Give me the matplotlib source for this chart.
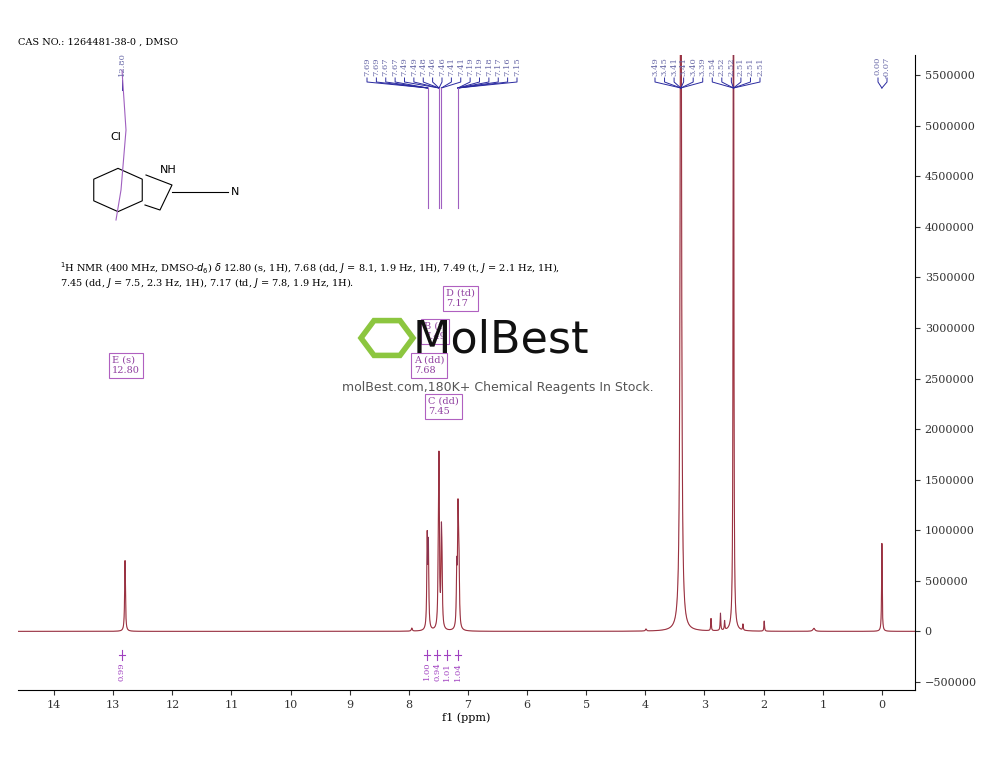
import numpy as np
import matplotlib.pyplot as plt
from matplotlib.patches import RegularPolygon

# Peaks (ppm, height)
peak_ppm = [12.80, 7.69, 7.67, 7.50, 7.49, 7.45, 7.44, 7.19, 7.17, 7.16, 7.15,
            7.95, 3.99, 3.40, 2.89, 2.73, 2.66, 2.51, 2.35, 1.99, 1.15, 0.00]
peak_h = [700000, 880000, 800000, 700000, 1450000, 800000, 500000, 550000, 950000, 550000, 400000,
          30000, 20000, 9000000, 120000, 170000, 90000, 9000000, 60000, 100000, 30000, 870000]
peak_w = [0.008] + [0.008]*10 + [0.01, 0.01, 0.012, 0.006, 0.006, 0.006, 0.006, 0.006, 0.006, 0.02, 0.006]

labels_a = ['7.69', '7.69', '7.67', '7.67', '7.49', '7.49', '7.48', '7.46', '7.46',
            '7.41', '7.41', '7.19', '7.19', '7.18', '7.17', '7.16', '7.15']
labels_b = ['3.49', '3.45', '3.41', '3.41', '3.40', '3.39', '2.54', '2.52', '2.52', '2.51', '2.51', '2.51']
labels_c = ['0.00', '-0.07']

integ_val = ['0.99', '1.00', '0.94', '1.01', '1.04']
integ_px = [122, 427, 437, 447, 458]

boxes = [('E (s)\n12.80', 108, 352), ('D (td)\n7.17', 442, 285), ('B (t)\n7.49', 420, 318),
         ('A (dd)\n7.68', 410, 352), ('C (dd)\n7.45', 424, 393)]

W, H = 1000, 773
fig = plt.figure(figsize=(10, 7.73), dpi=100)
ax = fig.add_axes([18/W, 1-690/H, (915-18)/W, (690-55)/H])

x = np.linspace(14.61, -0.56, 30000)
y = np.zeros_like(x)
for p, h, w in zip(peak_ppm, peak_h, peak_w):
    y += h / (1 + ((x - p) / w) ** 2)
ax.plot(x, y, color='#b03030', lw=0.8)
ax.plot(x, y, color='#3040a0', lw=0.3, alpha=0.4)
ax.set_xlim(14.61, -0.56)
ax.set_ylim(-580000, 5700000)
ax.yaxis.tick_right()
ax.spines['top'].set_visible(False)
ax.spines['left'].set_visible(False)
ax.set_xticks(range(0, 15))
ax.set_yticks(range(-500000, 5500001, 500000))
ax.set_yticklabels(['\u2212500000' if v < 0 else str(v) for v in range(-500000, 5500001, 500000)])
ax.tick_params(labelsize=8, colors='#333333')
for t in ax.get_xticklabels() + ax.get_yticklabels():
    t.set_family('serif')
ax.set_xlabel('f1 (ppm)', fontsize=8, family='serif', labelpad=2)

def ppm2px(p):
    return 18 + (14.61 - p) / (14.61 + 0.56) * 897

def fx(px):
    return px / W

def fy(py):
    return 1 - py / H

def label_group(labels, x0, x1, targets):
    xs = np.linspace(x0, x1, len(labels))
    for lab, xp, tp in zip(labels, xs, targets):
        fig.text(fx(xp), fy(57), lab, rotation=90, fontsize=6, color='#6a6aa8',
                 family='serif', ha='center', va='top')
        tx = ppm2px(tp)
        fig.add_artist(plt.Line2D([fx(xp), fx(xp), fx(tx)], [fy(78), fy(82), fy(88)],
                                  color='#2a2aa0', lw=0.7))

label_group(labels_a, 367, 517, [7.68]*4 + [7.49]*5 + [7.45]*2 + [7.17]*6)
label_group(labels_b, 655, 760, [3.40]*6 + [2.51]*6)
label_group(labels_c, 878, 887, [0.0, 0.0])
fig.text(fx(122), fy(52), '12.80', rotation=90, fontsize=6, color='#6a6aa8', family='serif', ha='center', va='top')
fig.add_artist(plt.Line2D([fx(122), fx(122)], [fy(80), fy(90)], color='#2a2aa0', lw=0.7))
for p in [7.68, 7.49, 7.45, 7.17]:
    fig.add_artist(plt.Line2D([fx(ppm2px(p))]*2, [fy(88), fy(208)], color='#a060c0', lw=0.8))
fig.add_artist(plt.Line2D([fx(122), fx(126), fx(121), fx(116)], [fy(70), fy(130), fy(190), fy(220)],
                          color='#a060c0', lw=0.8))

for v, xp in zip(integ_val, integ_px):
    fig.text(fx(xp), fy(662), v, rotation=90, fontsize=6, color='#a040c0', family='serif', ha='center', va='top')
    fig.add_artist(plt.Line2D([fx(xp-3), fx(xp+3)], [fy(655), fy(655)], color='#a040c0', lw=0.8))
    fig.add_artist(plt.Line2D([fx(xp)]*2, [fy(650), fy(660)], color='#a040c0', lw=0.8))

for txt, bx, by in boxes:
    fig.text(fx(bx+4), fy(by+4), txt, fontsize=7, color='#9040a0', family='serif', va='top',
             linespacing=1.2, bbox=dict(boxstyle='square,pad=0.3', fc='white', ec='#b060c0', lw=0.8))

fig.text(fx(18), fy(42), 'CAS NO.: 1264481-38-0 , DMSO', fontsize=7, family='serif', va='center')
fig.text(fx(60), fy(268), r'$^1$H NMR (400 MHz, DMSO-$d_6$) $\delta$ 12.80 (s, 1H), 7.68 (dd, $J$ = 8.1, 1.9 Hz, 1H), 7.49 (t, $J$ = 2.1 Hz, 1H),',
         fontsize=7, family='serif', va='center')
fig.text(fx(60), fy(283), r'7.45 (dd, $J$ = 7.5, 2.3 Hz, 1H), 7.17 (td, $J$ = 7.8, 1.9 Hz, 1H).',
         fontsize=7, family='serif', va='center')

# rough structure
fig.add_artist(RegularPolygon((fx(118), fy(190)), 6, radius=0.028, orientation=0, fill=False, lw=0.8,
                              transform=fig.transFigure))
fig.text(fx(116), fy(137), 'Cl', fontsize=8, ha='center', va='center')
fig.text(fx(168), fy(170), 'NH', fontsize=8, ha='center', va='center')
fig.text(fx(235), fy(192), 'N', fontsize=8, ha='center', va='center')
fig.add_artist(plt.Line2D([fx(146), fx(172), fx(160), fx(145)], [fy(175), fy(185), fy(210), fy(205)],
                          color='k', lw=0.8))
fig.add_artist(plt.Line2D([fx(172), fx(228)], [fy(192), fy(192)], color='k', lw=0.8))

# watermark
fig.add_artist(RegularPolygon((fx(387), fy(338)), 6, radius=0.026, orientation=np.pi/6, fill=False,
                              ec='#8cc63f', lw=4, transform=fig.transFigure, zorder=10))
fig.text(fx(413), fy(340), 'MolBest', fontsize=32, ha='left', va='center', color='#111111',
         family='Liberation Sans Narrow', zorder=10)
fig.text(fx(498), fy(387), 'molBest.com,180K+ Chemical Reagents In Stock.', fontsize=9,
         ha='center', va='center', color='#555555', zorder=10)

fig.savefig('out.png', dpi=100)
